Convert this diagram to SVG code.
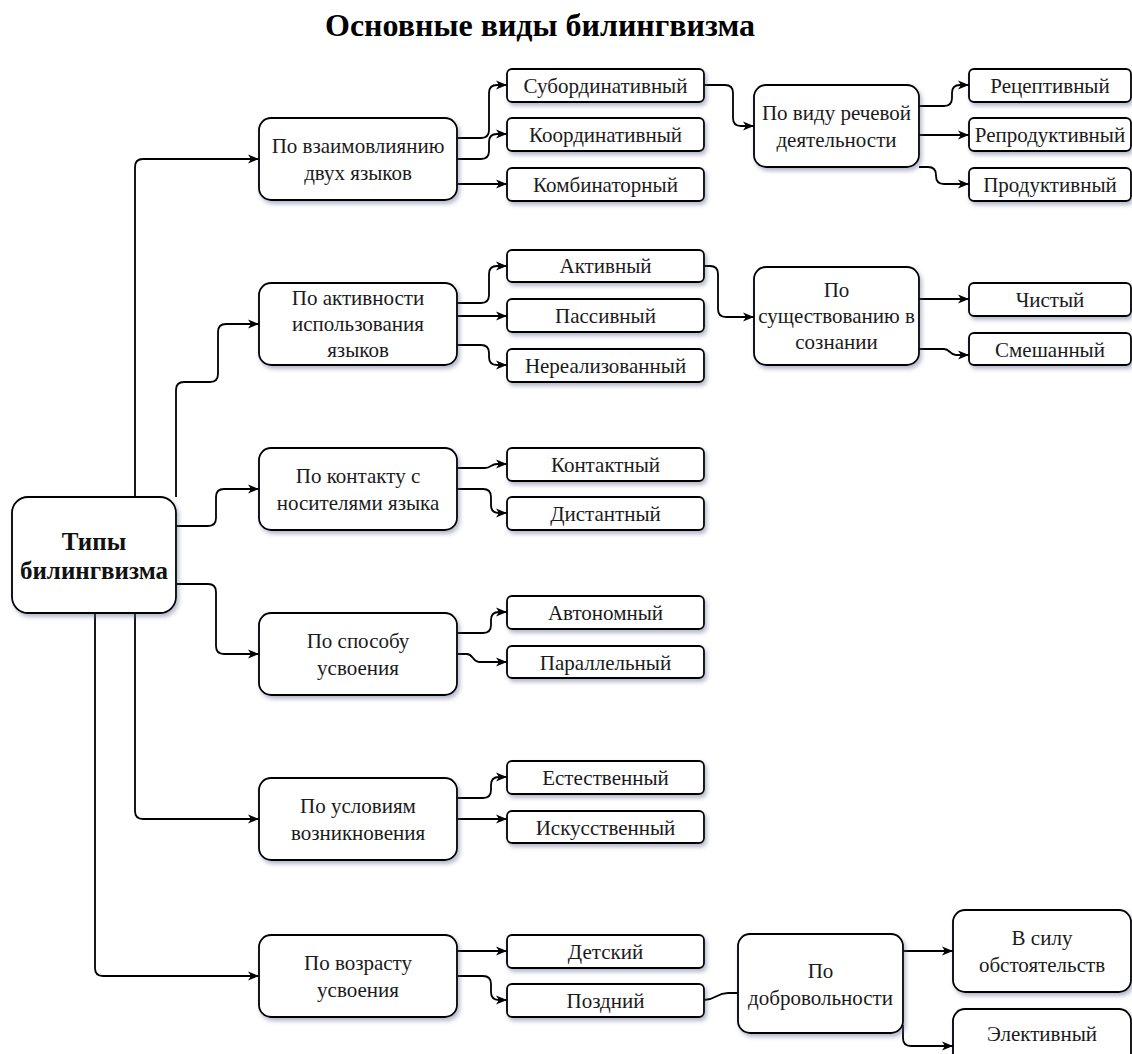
<svg xmlns="http://www.w3.org/2000/svg" width="1132" height="1054" viewBox="0 0 1132 1054">
<style>
  .bx { fill:#ffffff; stroke:#000000; stroke-width:1.8; filter:url(#sh); }
  .lbl { font-family:'Liberation Serif','Times New Roman',serif; font-size:21px; fill:#1a1a1a; text-anchor:middle; }
  .ttl { font-family:'Liberation Serif','Times New Roman',serif; font-size:32px; font-weight:bold; fill:#000; text-anchor:middle; }
  .lblb { font-family:'Liberation Serif','Times New Roman',serif; font-size:25px; font-weight:bold; fill:#111; text-anchor:middle; }
  .c { fill:none; stroke:#000; stroke-width:1.8; }
  .a { marker-end:url(#arr); }
</style>
<defs>
  <filter id="sh" x="-10%" y="-10%" width="130%" height="140%">
    <feDropShadow dx="2" dy="3" stdDeviation="2" flood-color="#5a6088" flood-opacity="0.45"/>
  </filter>
  <marker id="arr" markerWidth="12" markerHeight="10" refX="11" refY="5" orient="auto" markerUnits="userSpaceOnUse">
    <path d="M0,0.5 L11,5 L0,9.5 L3,5 Z" fill="#000"/>
  </marker>
</defs>
<rect width="1132" height="1054" fill="#ffffff"/>
<text class="ttl" x="540" y="36">Основные виды билингвизма</text>

<g id="connectors">
  <path class="c a" d="M135,497 V167 Q135,159 143,159 H259"/>
  <path class="c a" d="M176,497 V390 Q176,382 184,382 H210 Q218,382 218,374 V332 Q218,324 226,324 H259"/>
  <path class="c a" d="M176,526 H208 Q216,526 216,518 V497 Q216,489 224,489 H259"/>
  <path class="c a" d="M176,584 H208 Q216,584 216,592 V646 Q216,654 224,654 H259"/>
  <path class="c a" d="M135,613 V811 Q135,819 143,819 H259"/>
  <path class="c a" d="M95,613 V968 Q95,976 103,976 H259"/>

  <path class="c a" d="M457,138 H481 Q489,138 489,130 V93 Q489,85 497,85 H507"/>
  <path class="c a" d="M457,159 H481 Q489,159 489,151 V142 Q489,134 497,134 H507"/>
  <path class="c a" d="M457,184 H507"/>
  <path class="c a" d="M704,85 H725 Q733,85 733,93 V118 Q733,126 741,126 H754"/>
  <path class="c a" d="M919,106 H944 Q952,106 952,98 V93 Q952,85 960,85 H969"/>
  <path class="c a" d="M919,135 H969"/>
  <path class="c a" d="M919,167 H928 Q936,167 936,175 V176 Q936,184 944,184 H969"/>

  <path class="c a" d="M457,303 H481 Q489,303 489,295 V274 Q489,266 497,266 H507"/>
  <path class="c a" d="M457,316 H507"/>
  <path class="c a" d="M457,345 H481 Q489,345 489,353 V357 Q489,365 497,365 H507"/>
  <path class="c a" d="M704,266 H710 Q718,266 718,274 V309 Q718,317 726,317 H754"/>
  <path class="c a" d="M919,299 H969"/>
  <path class="c a" d="M919,349 H944 C950,349 950,355 956,355 H969"/>

  <path class="c a" d="M457,468 H485 C491,468 491,464 497,464 H507"/>
  <path class="c a" d="M457,489 H483 Q491,489 491,497 V505 Q491,513 499,513 H507"/>

  <path class="c a" d="M457,633 H483 Q491,633 491,625 V620 Q491,612 499,612 H507"/>
  <path class="c a" d="M457,654 H467 C473,654 473,662 479,662 H507"/>

  <path class="c a" d="M457,798 H483 Q491,798 491,790 V785 Q491,777 499,777 H507"/>
  <path class="c a" d="M457,819 H507"/>

  <path class="c a" d="M457,951 H507"/>
  <path class="c a" d="M457,976 H483 Q491,976 491,984 V992 Q491,1000 499,1000 H507"/>
  <path class="c" d="M704,1000 C716,1000 716,993 728,993 H738"/>
  <path class="c a" d="M903,951 H953"/>
  <path class="c a" d="M903,1025 V1038 Q903,1046 911,1046 H953"/>
</g>

<g id="nodes">
<g id="n-root">
  <rect class="bx" x="12" y="497" width="164" height="116" rx="16"/>
  <text class="lblb" x="94" y="550">Типы</text>
  <text class="lblb" x="94" y="579">билингвизма</text>
</g>

<g id="n-vzaimo">
  <rect class="bx" x="259" y="118" width="198" height="82" rx="12"/>
  <text class="lbl" x="358" y="153">По взаимовлиянию</text>
  <text class="lbl" x="358" y="180">двух языков</text>
</g>
<g id="n-aktiv">
  <rect class="bx" x="259" y="283" width="198" height="82" rx="12"/>
  <text class="lbl" x="358" y="305">По активности</text>
  <text class="lbl" x="358" y="331">использования</text>
  <text class="lbl" x="358" y="357">языков</text>
</g>
<g id="n-kontakt">
  <rect class="bx" x="259" y="448" width="198" height="82" rx="12"/>
  <text class="lbl" x="358" y="483">По контакту с</text>
  <text class="lbl" x="358" y="510">носителями языка</text>
</g>
<g id="n-sposob">
  <rect class="bx" x="259" y="613" width="198" height="82" rx="12"/>
  <text class="lbl" x="358" y="648">По способу</text>
  <text class="lbl" x="358" y="675">усвоения</text>
</g>
<g id="n-uslov">
  <rect class="bx" x="259" y="778" width="198" height="82" rx="12"/>
  <text class="lbl" x="358" y="813">По условиям</text>
  <text class="lbl" x="358" y="840">возникновения</text>
</g>
<g id="n-vozrast">
  <rect class="bx" x="259" y="935" width="198" height="82" rx="12"/>
  <text class="lbl" x="358" y="970">По возрасту</text>
  <text class="lbl" x="358" y="997">усвоения</text>
</g>

<g id="n-subord"><rect class="bx" x="507" y="69" width="197" height="33" rx="5"/><text class="lbl" x="605.5" y="93">Субординативный</text></g>
<g id="n-koord"><rect class="bx" x="507" y="118" width="197" height="33" rx="5"/><text class="lbl" x="605.5" y="142">Координативный</text></g>
<g id="n-kombin"><rect class="bx" x="507" y="168" width="197" height="33" rx="5"/><text class="lbl" x="605.5" y="192">Комбинаторный</text></g>
<g id="n-aktivny"><rect class="bx" x="507" y="250" width="197" height="32" rx="5"/><text class="lbl" x="605.5" y="273">Активный</text></g>
<g id="n-passiv"><rect class="bx" x="507" y="299" width="197" height="33" rx="5"/><text class="lbl" x="605.5" y="323">Пассивный</text></g>
<g id="n-nereal"><rect class="bx" x="507" y="349" width="197" height="33" rx="5"/><text class="lbl" x="605.5" y="373">Нереализованный</text></g>
<g id="n-kontaktny"><rect class="bx" x="507" y="448" width="197" height="33" rx="5"/><text class="lbl" x="605.5" y="472">Контактный</text></g>
<g id="n-distant"><rect class="bx" x="507" y="497" width="197" height="33" rx="5"/><text class="lbl" x="605.5" y="521">Дистантный</text></g>
<g id="n-avtonom"><rect class="bx" x="507" y="596" width="197" height="33" rx="5"/><text class="lbl" x="605.5" y="620">Автономный</text></g>
<g id="n-parall"><rect class="bx" x="507" y="646" width="197" height="32" rx="5"/><text class="lbl" x="605.5" y="670">Параллельный</text></g>
<g id="n-estestv"><rect class="bx" x="507" y="761" width="197" height="33" rx="5"/><text class="lbl" x="605.5" y="785">Естественный</text></g>
<g id="n-iskusst"><rect class="bx" x="507" y="811" width="197" height="32" rx="5"/><text class="lbl" x="605.5" y="835">Искусственный</text></g>
<g id="n-detsky"><rect class="bx" x="507" y="935" width="197" height="33" rx="5"/><text class="lbl" x="605.5" y="959">Детский</text></g>
<g id="n-pozdny"><rect class="bx" x="507" y="984" width="197" height="33" rx="5"/><text class="lbl" x="605.5" y="1008">Поздний</text></g>

<g id="n-vidu">
  <rect class="bx" x="754" y="85" width="165" height="82" rx="12"/>
  <text class="lbl" x="836.5" y="120">По виду речевой</text>
  <text class="lbl" x="836.5" y="147">деятельности</text>
</g>
<g id="n-sushch">
  <rect class="bx" x="754" y="267" width="165" height="98" rx="12"/>
  <text class="lbl" x="836.5" y="297">По</text>
  <text class="lbl" x="836.5" y="323">существованию в</text>
  <text class="lbl" x="836.5" y="349">сознании</text>
</g>
<g id="n-dobrovol">
  <rect class="bx" x="738" y="934" width="165" height="99" rx="12"/>
  <text class="lbl" x="820.5" y="978">По</text>
  <text class="lbl" x="820.5" y="1005">добровольности</text>
</g>

<g id="n-recept"><rect class="bx" x="969" y="69" width="162" height="33" rx="5"/><text class="lbl" x="1050" y="93">Рецептивный</text></g>
<g id="n-reprod"><rect class="bx" x="969" y="118" width="162" height="33" rx="5"/><text class="lbl" x="1050" y="142">Репродуктивный</text></g>
<g id="n-prod"><rect class="bx" x="969" y="168" width="162" height="33" rx="5"/><text class="lbl" x="1050" y="192">Продуктивный</text></g>
<g id="n-chisty"><rect class="bx" x="969" y="283" width="162" height="33" rx="5"/><text class="lbl" x="1050" y="307">Чистый</text></g>
<g id="n-smesh"><rect class="bx" x="969" y="333" width="162" height="32" rx="5"/><text class="lbl" x="1050" y="357">Смешанный</text></g>

<g id="n-vsilu">
  <rect class="bx" x="953" y="910" width="178" height="82" rx="12"/>
  <text class="lbl" x="1042" y="945">В силу</text>
  <text class="lbl" x="1042" y="972">обстоятельств</text>
</g>
<g id="n-elekt">
  <rect class="bx" x="953" y="1009" width="178" height="70" rx="12"/>
  <text class="lbl" x="1042" y="1041">Элективный</text>
</g>
</g>
</svg>
